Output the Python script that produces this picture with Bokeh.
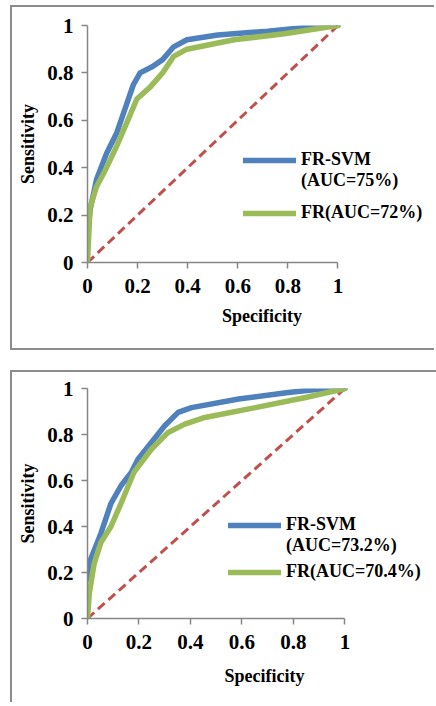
from bokeh.plotting import figure
from bokeh.models import Range1d, FixedTicker, Legend, LegendItem
from bokeh.layouts import column
from bokeh.embed import file_html
from bokeh.resources import INLINE

# ---- data ----
ticks = [0, 0.2, 0.4, 0.6, 0.8, 1]
tick_labels = ["0", "0.2", "0.4", "0.6", "0.8", "1"]
x_title = "Specificity"
y_title = "Sensitivity"
diag_x = [0, 1]
diag_y = [0, 1]

# top panel
top_svm_x = [0, 0.01, 0.036, 0.076, 0.116, 0.157, 0.183, 0.21, 0.26, 0.30, 0.344, 0.397, 0.52, 0.72, 0.92, 1]
top_svm_y = [0.10, 0.22, 0.35, 0.46, 0.545, 0.67, 0.75, 0.80, 0.827, 0.856, 0.91, 0.94, 0.96, 0.976, 0.997, 1]
top_fr_x = [0, 0.01, 0.036, 0.076, 0.116, 0.157, 0.197, 0.25, 0.30, 0.344, 0.397, 0.585, 0.786, 1]
top_fr_y = [0, 0.23, 0.32, 0.40, 0.49, 0.59, 0.69, 0.74, 0.80, 0.87, 0.90, 0.94, 0.965, 1]
top_svm_label = ["FR-SVM", "(AUC=75%)"]
top_fr_label = "FR(AUC=72%)"

# bottom panel
bot_svm_x = [0, 0.013, 0.052, 0.091, 0.13, 0.17, 0.196, 0.248, 0.30, 0.352, 0.404, 0.587, 0.78, 0.925, 1]
bot_svm_y = [0.17, 0.26, 0.37, 0.50, 0.577, 0.635, 0.693, 0.765, 0.838, 0.896, 0.917, 0.954, 0.983, 1.0, 1]
bot_fr_x = [0, 0.007, 0.026, 0.052, 0.091, 0.13, 0.18, 0.248, 0.313, 0.378, 0.456, 0.652, 0.847, 1]
bot_fr_y = [0, 0.11, 0.24, 0.33, 0.40, 0.50, 0.635, 0.736, 0.809, 0.845, 0.874, 0.917, 0.961, 1]
bot_svm_label = ["FR-SVM", "(AUC=73.2%)"]
bot_fr_label = "FR(AUC=70.4%)"

BLUE = "#4F81BD"
GREEN = "#9BBB59"
RED = "#C0504D"
AXIS = "#868686"
FONT = "Liberation Serif"


def style_legend(leg):
    leg.label_text_font = FONT
    leg.label_text_font_style = "bold"
    leg.label_text_font_size = "18px"
    leg.label_text_color = "black"
    leg.glyph_width = 53
    leg.glyph_height = 20
    leg.label_height = 20
    leg.label_standoff = 5
    leg.padding = 0
    leg.margin = 0
    leg.spacing = 0
    leg.border_line_color = None
    leg.background_fill_alpha = 0
    leg.orientation = "vertical"


def make(svm_x, svm_y, fr_x, fr_y, svm_label, fr_label, fw, fh, x_end, bl, bt, bb,
         loc_a, loc_b, xlab_standoff, borders):
    p = figure(frame_width=fw, frame_height=fh, output_backend="svg", toolbar_location=None,
               x_range=Range1d(0, x_end), y_range=Range1d(0, 1),
               min_border_left=bl, min_border_right=0, min_border_top=bt, min_border_bottom=bb,
               margin=(0, 0, 0, 5), styles=borders)
    p.outline_line_color = None
    p.grid.visible = False
    p.background_fill_color = "white"
    p.border_fill_color = "white"

    for ax in (p.xaxis[0], p.yaxis[0]):
        ax.ticker = FixedTicker(ticks=ticks)
        ax.major_label_overrides = {t: l for t, l in zip(ticks, tick_labels)}
        ax.bounds = (0, 1)
        ax.axis_line_color = AXIS
        ax.axis_line_width = 1.5
        ax.major_tick_line_color = AXIS
        ax.major_tick_line_width = 1.5
        ax.major_tick_out = 6
        ax.major_tick_in = 0
        ax.minor_tick_line_color = None
        ax.major_label_text_font = FONT
        ax.major_label_text_font_style = "bold"
        ax.major_label_text_font_size = "21px"
        ax.major_label_text_color = "black"
        ax.axis_label_text_font = FONT
        ax.axis_label_text_font_style = "bold"
        ax.axis_label_text_font_size = "18px"
        ax.axis_label_text_color = "black"
    p.xaxis.axis_label = x_title
    p.yaxis.axis_label = y_title
    p.xaxis.major_label_standoff = 10
    p.yaxis.major_label_standoff = 8
    p.xaxis.axis_label_standoff = xlab_standoff
    p.yaxis.axis_label_standoff = 6

    p.line(diag_x, diag_y, line_color=RED, line_width=3, line_dash="9 5")
    r_svm = p.line(svm_x, svm_y, line_color=BLUE, line_width=5.5, line_cap="round", line_join="round")
    r_fr = p.line(fr_x, fr_y, line_color=GREEN, line_width=5.5, line_cap="round", line_join="round")

    leg_a = Legend(items=[LegendItem(label=svm_label[0], renderers=[r_svm]),
                          LegendItem(label=svm_label[1], renderers=[])],
                   location=loc_a)
    leg_b = Legend(items=[LegendItem(label=fr_label, renderers=[r_fr])], location=loc_b)
    for leg in (leg_a, leg_b):
        style_legend(leg)
        p.add_layout(leg, "center")
    return p


b = "2px solid #8c8c8c"
p1 = make(top_svm_x, top_svm_y, top_fr_x, top_fr_y, top_svm_label, top_fr_label,
          347, 233, 347 / 249, 75, 18, 90, (156, 71), (156, 39), 10,
          {"border-left": b, "border-top": b, "border-bottom": b, "border-right": "none"})
p2 = make(bot_svm_x, bot_svm_y, bot_fr_x, bot_fr_y, bot_svm_label, bot_fr_label,
          352, 228, 352 / 256, 70, 16, 86, (144, 62), (144, 36), 14,
          {"border-left": b, "border-top": b, "border-right": "none"})

layout = column(p1, p2, spacing=20, margin=(5, 0, 0, 5))
open("out.html", "w").write(file_html(layout, INLINE))
